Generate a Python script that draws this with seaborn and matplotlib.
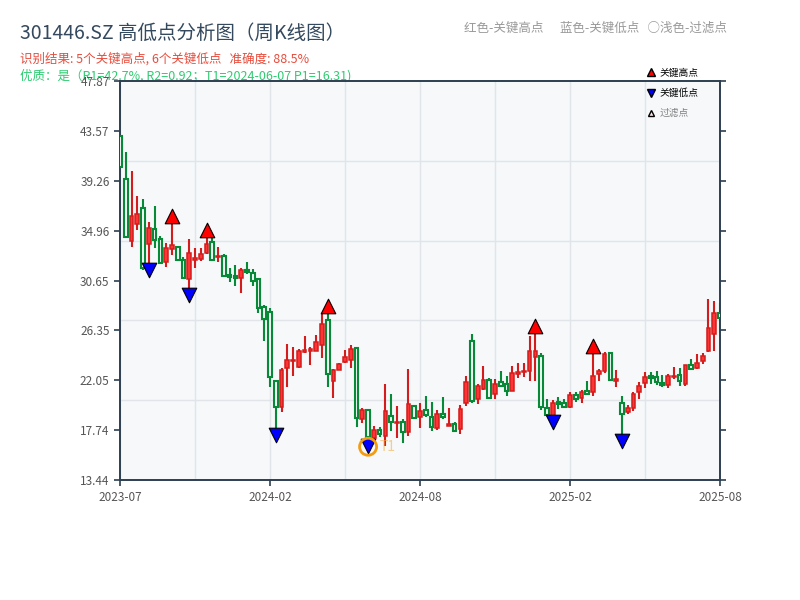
import numpy as np
import pandas as pd
import seaborn as sns
import matplotlib.pyplot as plt
from matplotlib.lines import Line2D

# weekly K-line data (index = week number)
opens = [43.12, 39.39, 34.06, 35.50, 36.88, 33.78, 35.10, 34.21, 32.23, 33.35,
         33.52, 32.42, 30.76, 32.40, 32.48, 33.00, 34.00, 32.71, 32.77, 31.13,
         31.04, 30.84, 31.56, 31.28, 30.76, 28.34, 27.91, 22.01, 19.76, 23.08,
         23.70, 23.16, 24.46, 24.57, 24.60, 25.09, 27.25, 21.98, 22.93, 23.65,
         23.79, 24.80, 18.68, 19.48, 17.09, 17.75, 17.26, 18.99, 18.33, 18.42,
         17.61, 19.83, 18.90, 19.48, 18.85, 17.95, 19.11, 18.13, 18.25, 17.81,
         20.11, 25.41, 20.40, 21.29, 22.07, 20.83, 21.87, 21.70, 21.15, 22.59,
         22.73, 22.87, 24.08, 24.14, 19.63, 18.96, 20.20, 20.11, 19.71, 20.77,
         20.49, 21.12, 21.06, 22.56, 22.87, 24.37, 21.96, 20.06, 19.33, 19.63,
         21.01, 21.78, 22.44, 22.30, 21.84, 21.64, 22.30, 22.50, 21.72, 23.36,
         23.13, 23.71, 24.57, 26.01, 27.82]
highs = [43.25, 41.74, 40.10, 37.95, 37.66, 35.70, 37.08, 34.49, 33.92, 35.73,
         33.60, 32.71, 34.24, 33.48, 33.46, 34.49, 34.49, 33.52, 32.94, 31.71,
         31.99, 31.73, 32.25, 31.65, 30.80, 28.51, 28.26, 22.10, 23.13, 25.18,
         24.89, 24.74, 25.87, 24.94, 25.95, 27.74, 27.96, 23.00, 23.50, 24.66,
         25.09, 24.89, 19.68, 19.55, 18.10, 18.04, 21.70, 20.86, 19.83, 18.68,
         23.02, 19.90, 20.06, 20.69, 20.17, 19.48, 20.58, 19.68, 18.44, 19.89,
         22.41, 26.04, 21.72, 23.28, 22.24, 22.13, 22.87, 22.41, 23.30, 23.51,
         23.51, 25.87, 26.24, 24.37, 20.40, 20.34, 20.58, 20.40, 21.01, 21.01,
         21.21, 22.01, 24.51, 23.02, 24.51, 24.51, 22.93, 20.69, 19.91, 21.03,
         21.90, 22.76, 22.76, 22.85, 22.50, 22.59, 23.22, 23.13, 23.40, 23.88,
         24.31, 24.37, 29.06, 28.89, 28.69]
lows = [40.40, 34.30, 33.57, 35.01, 31.60, 32.05, 33.43, 32.10, 31.85, 32.85,
        32.35, 30.76, 29.92, 31.76, 32.30, 32.95, 32.30, 32.28, 31.00, 30.55,
        30.21, 29.55, 31.19, 30.21, 27.88, 25.46, 21.49, 17.85, 19.33, 21.49,
        22.44, 23.10, 24.40, 23.36, 24.55, 23.99, 21.49, 20.54, 22.90, 23.51,
        23.13, 18.04, 18.33, 16.90, 16.81, 17.18, 16.40, 17.67, 17.09, 16.61,
        17.26, 18.70, 17.95, 18.85, 17.69, 17.75, 18.70, 18.10, 17.55, 17.41,
        19.83, 20.06, 20.00, 21.20, 20.43, 20.43, 21.44, 20.69, 21.10, 22.27,
        22.35, 22.01, 22.01, 19.48, 18.96, 18.96, 19.57, 19.65, 19.68, 20.20,
        20.11, 20.75, 20.69, 22.01, 22.70, 22.01, 21.44, 17.33, 19.11, 19.42,
        20.40, 21.40, 21.70, 21.64, 21.49, 21.40, 22.16, 21.58, 21.55, 23.00,
        23.02, 23.42, 24.50, 24.60, 26.10]
closes = [40.45, 34.43, 36.22, 36.37, 31.71, 35.16, 34.15, 32.19, 33.43, 33.69,
          32.42, 30.84, 33.00, 32.57, 32.94, 33.78, 32.42, 32.79, 31.04, 30.96,
          30.87, 31.56, 31.36, 30.61, 28.26, 27.31, 22.30, 19.71, 22.93, 23.79,
          23.79, 24.57, 24.66, 24.72, 25.32, 26.88, 22.56, 22.93, 23.45, 24.03,
          24.74, 18.82, 19.48, 17.18, 17.75, 17.38, 19.39, 18.47, 18.47, 17.56,
          19.97, 18.82, 19.39, 19.05, 18.04, 19.11, 18.90, 18.27, 17.69, 19.57,
          21.90, 20.26, 21.55, 22.07, 20.54, 21.72, 21.55, 21.15, 22.65, 22.73,
          22.87, 24.54, 24.57, 19.76, 19.05, 20.06, 20.00, 19.71, 20.75, 20.40,
          21.06, 20.86, 22.41, 22.85, 24.31, 22.07, 22.15, 19.11, 19.63, 20.83,
          21.58, 22.35, 22.21, 21.92, 21.61, 22.44, 22.41, 22.01, 23.36, 23.04,
          23.56, 24.17, 26.53, 27.82, 27.39]

high_idx = [9, 15, 36, 72, 82]
low_idx = [5, 12, 27, 43, 75, 87]
t1_idx = 43
p1 = 16.31

tick_pos = [0, 26, 52, 78, 104]
tick_labels = ['2023-07', '2024-02', '2024-08', '2025-02', '2025-08']
y_ticks = [13.44, 17.74, 22.05, 26.35, 30.65, 34.96, 39.26, 43.57, 47.87]
y_min, y_max = y_ticks[0], y_ticks[-1]

df = pd.DataFrame({'open': opens, 'high': highs, 'low': lows, 'close': closes})
df['x'] = np.arange(len(df))
df['up'] = df['close'] >= df['open']

RED_EDGE = '#d41c1c'
RED_FILL = '#ff3333'
GREEN = '#078a37'
BG = '#f6f8fa'

sns.set_theme(style='white')
plt.rcParams['font.family'] = ['Noto Sans CJK SC', 'DejaVu Sans']
plt.rcParams['axes.unicode_minus'] = False

fig = plt.figure(figsize=(8, 6), dpi=100)
ax = fig.add_axes([0.15, 0.2, 0.75, 0.665])
ax.set_facecolor(BG)

up = df[df['up']]
dn = df[~df['up']]

# wicks
ax.vlines(up['x'], up['low'], up['high'], color=RED_EDGE, lw=1.5, zorder=2)
ax.vlines(dn['x'], dn['low'], dn['high'], color=GREEN, lw=1.5, zorder=2)

# bodies
ax.bar(up['x'], (up['close'] - up['open']).clip(lower=0.04), bottom=up['open'],
       width=0.64, color=RED_FILL, edgecolor=RED_EDGE, linewidth=1.1, zorder=3)
ax.bar(dn['x'], (dn['open'] - dn['close']).clip(lower=0.04), bottom=dn['close'],
       width=0.64, color=BG, edgecolor=GREEN, linewidth=1.5, zorder=3)

# key points
off = 0.015 * (y_max - y_min)
hi_pts = pd.DataFrame({'x': high_idx, 'y': [highs[i] + off for i in high_idx]})
lo_pts = pd.DataFrame({'x': low_idx, 'y': [lows[i] - off for i in low_idx]})
sns.scatterplot(data=hi_pts, x='x', y='y', marker='^', s=110, color='red',
                edgecolor='black', linewidth=0.8, zorder=5, ax=ax)
sns.scatterplot(data=lo_pts, x='x', y='y', marker='v', s=110, color='blue',
                edgecolor='black', linewidth=0.8, zorder=5, ax=ax)

# T1 marker
ax.scatter([t1_idx], [p1], s=150, facecolors='none', edgecolors='#f39c12',
           linewidths=2, zorder=6)
ax.text(t1_idx + 2.0, p1, 'T1', color='#f5b041', alpha=0.6, fontsize=10,
        va='center', ha='left', zorder=6)

ax.set_xlim(0, 104)
ax.set_ylim(y_min, y_max)
ax.set_xticks(tick_pos)
ax.set_xticklabels(tick_labels)
ax.set_xticks(np.arange(0, 105, 13), minor=True)
ax.set_yticks(y_ticks)
ax.set_yticklabels(['%.2f' % v for v in y_ticks])
ax.set_yticks(np.linspace(y_min, y_max, 6)[1:-1], minor=True)
ax.grid(False)
ax.grid(True, which='minor', color='#e1e4e9', lw=1)
ax.grid(True, which='major', axis='x', color='#e1e4e9', lw=1)
ax.set_axisbelow(True)
ax.tick_params(axis='both', which='minor', length=0)
ax.tick_params(axis='x', which='major', length=4, width=1.2, color='#2c3e50',
               labelsize=8.5, labelcolor='#555555', pad=4, bottom=True)
ax.tick_params(axis='y', which='major', length=4, width=1.2, color='#2c3e50',
               labelsize=8.5, labelcolor='#555555', left=True, right=True)
for s in ax.spines.values():
    s.set_color('#2c3e50')
    s.set_linewidth(1.4)
ax.set_xlabel('')
ax.set_ylabel('')

handles = [
    Line2D([], [], ls='', marker='^', color='red', markeredgecolor='black', markersize=6),
    Line2D([], [], ls='', marker='v', color='blue', markeredgecolor='black', markersize=6),
    Line2D([], [], ls='', marker='^', color='#ffe6e6', markeredgecolor='black', markersize=5),
]
ax.legend(handles, ['关键高点', '关键低点', '过滤点'], loc='upper left',
          bbox_to_anchor=(0.86, 1.055), frameon=False, fontsize=7,
          handletextpad=0.3, labelspacing=1.05, handlelength=1.2,
          labelcolor=['black', 'black', 'gray'])

fig.text(0.025, 0.945, '301446.SZ 高低点分析图（周K线图）', fontsize=14,
         color='#34495e', va='center', ha='left')
fig.text(0.025, 0.902, '识别结果: 5个关键高点, 6个关键低点   准确度: 88.5%',
         fontsize=9, color='#e74c3c', va='center', ha='left')
fig.text(0.025, 0.873, '优质：是（R1=42.7%, R2=0.92；T1=2024-06-07 P1=16.31)',
         fontsize=9, color='#2ecc71', va='center', ha='left', zorder=-1)
fig.text(0.909, 0.953, '红色-关键高点      蓝色-关键低点   ○浅色-过滤点',
         fontsize=9, color='#999999', va='center', ha='right')

plt.savefig('out.png', dpi=100)
